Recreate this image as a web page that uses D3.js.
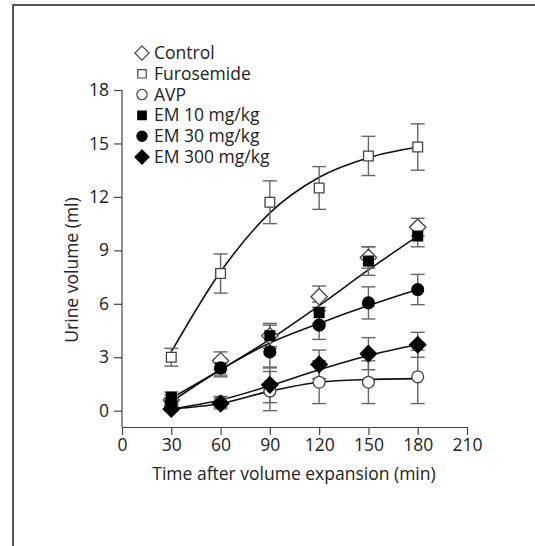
<!DOCTYPE html>
<html>
<head>
<meta charset="utf-8">
<script src="https://cdn.jsdelivr.net/npm/d3@7"></script>
<style>
  body { margin: 0; background: #fff; }
  text { font-family: "Open Sans", "DejaVu Sans", sans-serif; fill: #222; }
</style>
</head>
<body>
<div class="drawBoard"></div>
<script>
// time points (min)
const times = [30, 60, 90, 120, 150, 180];

// mean values (ml)
const controlVals = [0.6, 2.8, 4.2, 6.4, 8.6, 10.3];
const furoVals    = [3.0, 7.7, 11.7, 12.5, 14.3, 14.8];
const avpVals     = [0.15, 0.5, 1.1, 1.6, 1.6, 1.9];
const em10Vals    = [0.75, 2.4, 4.2, 5.5, 8.4, 9.8];
const em30Vals    = [0.5, 2.4, 3.3, 4.8, 6.05, 6.8];
const em300Vals   = [0.1, 0.4, 1.45, 2.6, 3.2, 3.7];

// error bars (+/-)
const controlErr = [0.3, 0.5, 0.6, 0.6, 0.6, 0.5];
const furoErr    = [0.5, 1.1, 1.2, 1.2, 1.1, 1.3];
const avpErr     = [0.2, 0.3, 1.1, 1.2, 1.2, 1.5];
const em10Err    = [0.3, 0.5, 0.7, 0.6, 0.8, 0.6];
const em30Err    = [0.2, 0.4, 0.9, 0.8, 0.9, 0.85];
const em300Err   = [0.1, 0.3, 1.0, 0.8, 0.9, 0.7];

// fitted curves as drawn in the figure
const furoFit  = [3.3, 7.8, 11.1, 13.1, 14.2, 14.8];
const em10Fit  = [0.7, 2.3, 4.0, 5.9, 7.9, 9.8];
const em30Fit  = [0.5, 2.3, 3.8, 4.9, 5.9, 6.8];
const em300Fit = [0.1, 0.6, 1.4, 2.3, 3.1, 3.7];
const avpFit   = [0.1, 0.4, 1.1, 1.6, 1.75, 1.8];

const xTicks = [0, 30, 60, 90, 120, 150, 180, 210];
const yTicks = [0, 3, 6, 9, 12, 15, 18];

const legendNames = ['Control', 'Furosemide', 'AVP', 'EM 10 mg/kg', 'EM 30 mg/kg', 'EM 300 mg/kg'];

const W = 535, H = 546;
const FS = 17.5;
const svg = d3.select('.drawBoard').append('svg')
  .attr('width', W)
  .attr('height', H);

// frame of the figure panel
svg.append('path')
  .attr('d', 'M13,' + H + ' L13,5 L' + W + ',5')
  .attr('fill', 'none')
  .attr('stroke', '#555')
  .attr('stroke-width', 2);

const x = d3.scaleLinear().domain([0, 210]).range([122, 467]);
const y = d3.scaleLinear().domain([0, 18]).range([410.7, 90]);

// axes
const xAxis = svg.append('g')
  .attr('transform', 'translate(0,427)')
  .call(d3.axisBottom(x).tickValues(xTicks).tickSize(8).tickSizeOuter(0).tickPadding(4));
const yAxis = svg.append('g')
  .attr('transform', 'translate(122,0)')
  .call(d3.axisLeft(y).tickValues(yTicks).tickSize(8).tickSizeOuter(0).tickPadding(5));
yAxis.select('.domain').attr('d', 'M0,' + y(18) + 'V427');
[xAxis, yAxis].forEach(a => {
  a.attr('font-size', FS).attr('font-family', '"Open Sans", sans-serif');
  a.selectAll('path, line').attr('stroke', '#444').attr('stroke-width', 1.2);
  a.selectAll('text').attr('fill', '#222');
});

svg.append('text')
  .attr('x', 294).attr('y', 480)
  .attr('text-anchor', 'middle')
  .attr('font-size', FS)
  .text('Time after volume expansion (min)');

svg.append('text')
  .attr('transform', 'translate(78,270) rotate(-90)')
  .attr('text-anchor', 'middle')
  .attr('font-size', FS)
  .text('Urine volume (ml)');

// fitted lines
const line = d3.line()
  .x((d, i) => x(times[i]))
  .y(d => y(d))
  .curve(d3.curveMonotoneX);
[furoFit, em10Fit, em30Fit, em300Fit, avpFit].forEach(f => {
  svg.append('path')
    .attr('d', line(f))
    .attr('fill', 'none')
    .attr('stroke', '#111')
    .attr('stroke-width', 1.6);
});

// series definition
const series = [
  { vals: controlVals, err: controlErr, shape: d3.symbolDiamond2, fill: '#fff' },
  { vals: furoVals, err: furoErr, shape: d3.symbolSquare2, fill: '#fff' },
  { vals: avpVals, err: avpErr, shape: d3.symbolCircle, fill: '#fff' },
  { vals: em10Vals, err: em10Err, shape: d3.symbolSquare2, fill: '#000' },
  { vals: em30Vals, err: em30Err, shape: d3.symbolCircle, fill: '#000' },
  { vals: em300Vals, err: em300Err, shape: d3.symbolDiamond2, fill: '#000' }
];

function symSize(shape) {
  if (shape === d3.symbolCircle) return 110;
  if (shape === d3.symbolSquare2) return 120;
  return 170;
}

// error bars
series.forEach(s => {
  const g = svg.append('g').attr('stroke', '#666').attr('stroke-width', 1.4);
  s.vals.forEach((v, i) => {
    const cx = x(times[i]);
    const top = y(v + s.err[i]), bot = y(Math.max(0, v - s.err[i]));
    g.append('line').attr('x1', cx).attr('x2', cx).attr('y1', top).attr('y2', bot);
    g.append('line').attr('x1', cx - 7).attr('x2', cx + 7).attr('y1', top).attr('y2', top);
    g.append('line').attr('x1', cx - 7).attr('x2', cx + 7).attr('y1', bot).attr('y2', bot);
  });
});

// markers
series.forEach(s => {
  svg.append('g').selectAll('path')
    .data(s.vals)
    .join('path')
    .attr('transform', (d, i) => 'translate(' + x(times[i]) + ',' + y(d) + ')')
    .attr('d', d3.symbol().type(s.shape).size(symSize(s.shape)))
    .attr('fill', s.fill)
    .attr('stroke', s.fill === '#000' ? '#000' : '#444')
    .attr('stroke-width', 1.3);
});

// legend
const legend = svg.append('g').attr('transform', 'translate(142,53)');
legendNames.forEach((name, i) => {
  const s = series[i];
  const row = legend.append('g').attr('transform', 'translate(0,' + (i * 20.8) + ')');
  row.append('path')
    .attr('d', d3.symbol().type(s.shape).size(symSize(s.shape) * 0.75)())
    .attr('fill', s.fill)
    .attr('stroke', s.fill === '#000' ? '#000' : '#444')
    .attr('stroke-width', 1.2);
  row.append('text')
    .attr('x', 12).attr('y', 6)
    .attr('font-size', FS)
    .text(name);
});
</script>
</body>
</html>
